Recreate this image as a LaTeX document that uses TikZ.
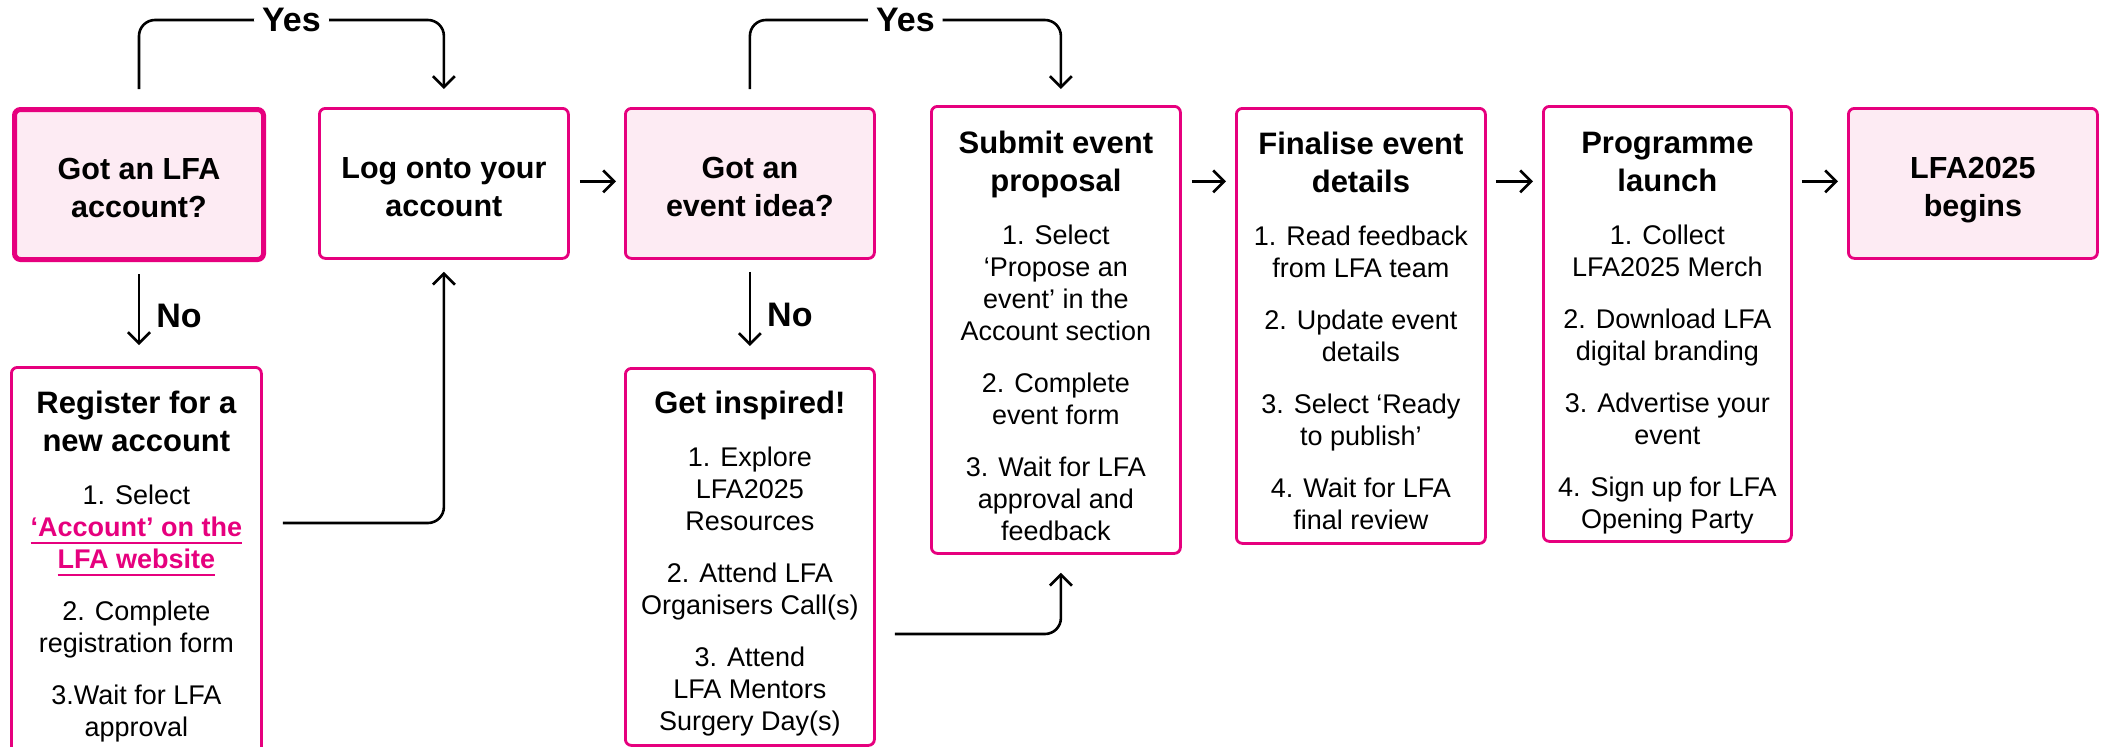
\documentclass[tikz,border=0pt]{standalone}
\usepackage{fontspec}
\setmainfont{Liberation Sans}
\usetikzlibrary{arrows.meta,calc}
\definecolor{lfapink}{HTML}{E6007E}
\definecolor{lfafill}{HTML}{FDEBF3}
\newcommand\hd[2][46]{{\fontsize{31}{38}\selectfont\bfseries\rule{0pt}{#1pt}#2\par}\vspace{21pt}}
\newcommand\qhd[1]{{\fontsize{30.5}{38}\selectfont\bfseries\rule{0pt}{70pt}#1\par}}
\newcommand\bodyfont{\fontsize{27}{32}\selectfont}
\newcommand\gap{\par\vspace{20pt}}
\newcommand\boxtext[3]{\begin{minipage}[t][#2][t]{#1}\centering #3\end{minipage}}
\newcommand\lnk[1]{\leavevmode{\color{lfapink}\bfseries\setbox0\hbox{#1}\rlap{\rule[-8pt]{\wd0}{2pt}}\box0}}
\begin{document}
\begin{tikzpicture}[x=1pt,y=-1pt,
  box/.style={draw=lfapink, line width=2.8pt, rounded corners=6pt, inner sep=0pt, anchor=north west},
  qbox/.style={box, fill=lfafill},
  conn/.style={draw=black, line width=2.6pt, -{Straight Barb[length=11pt,width=22pt]}},
  yn/.style={fill=white, font=\fontsize{34}{40}\selectfont\bfseries, inner xsep=8pt, inner ysep=2pt},
  nolbl/.style={font=\fontsize{34}{40}\selectfont\bfseries, inner sep=0pt, anchor=west}]
\clip (0,0) rectangle (2105,747);
% boxes
\node[qbox, line width=5pt] (b1) at (12,107) {\boxtext{249pt}{150pt}{\qhd{Got an LFA\\account?}}};
\node[box] (b2) at (318,107) {\boxtext{249pt}{150pt}{\qhd{Log onto your\\account}}};
\node[qbox] (b3) at (624,107) {\boxtext{249pt}{150pt}{\qhd{Got an\\event idea?}}};
\node[box] (b4) at (930,105) {\boxtext{249pt}{447pt}{\hd[47]{Submit event\\proposal}\bodyfont
  1. Select\\‘Propose an\\event’ in the\\Account section\gap
  2. Complete\\event form\gap
  3. Wait for LFA\\approval and\\feedback\par}};
\node[box] (b5) at (1235,107) {\boxtext{249pt}{435pt}{\hd{Finalise event\\details}\bodyfont
  1. Read feedback\\from LFA team\gap
  2. Update event\\details\gap
  3. Select ‘Ready\\to publish’\gap
  4. Wait for LFA\\final review\par}};
\node[box] (b6) at (1542,105) {\boxtext{248pt}{435pt}{\hd[47]{Programme\\launch}\bodyfont
  1. Collect\\LFA2025 Merch\gap
  2. Download LFA\\digital branding\gap
  3. Advertise your\\event\gap
  4. Sign up for LFA\\Opening Party\par}};
\node[qbox] (b7) at (1847,107) {\boxtext{249pt}{150pt}{\qhd{LFA2025\\begins}}};
\node[box] (b8) at (10,366) {\boxtext{250pt}{400pt}{\hd{Register for a\\new account}\bodyfont
  1. Select\\\lnk{‘Account’ on the}\\\lnk{LFA website}\gap
  2. Complete\\registration form\gap
  3.Wait for LFA\\approval\par}};
\node[box] (b9) at (624,367) {\boxtext{249pt}{377pt}{\hd[45]{Get inspired!}\bodyfont
  1. Explore\\LFA2025\\Resources\gap
  2. Attend LFA\\Organisers Call(s)\gap
  3. Attend\\LFA Mentors\\Surgery Day(s)\par}};
% yes connectors
\draw[conn, rounded corners=16pt] ($(b1.north)+(0,-18)$) -- ($(b1.north)+(0,-87)$)
  -- node[yn] (yes1) {Yes} ($(b2.north)+(0,-87)$) -- ($(b2.north)+(0,-18)$);
\draw[conn, rounded corners=16pt] ($(b3.north)+(0,-18)$) -- ($(b3.north)+(0,-87)$)
  -- node[yn] (yes2) {Yes} ($(b4.north)+(5,-85)$) -- ($(b4.north)+(5,-16)$);
% no connectors
\draw[conn] ($(b1.south)+(0,12)$) -- node[nolbl, xshift=16pt, yshift=-6pt] (no1) {No} ($(b1.south |- b8.north)+(0,-21)$);
\draw[conn] ($(b3.south)+(0,12)$) -- node[nolbl, xshift=16pt, yshift=-6pt] (no2) {No} ($(b3.south |- b9.north)+(0,-21)$);
% return connectors
\draw[conn, rounded corners=16pt] ($(b8.north east)+(20,157)$) -| ($(b2.south)+(0,12)$);
\draw[conn, rounded corners=16pt] ($(b9.north east)+(19,267)$) -| ($(b4.south)+(5,18)$);
% horizontal connectors
\draw[conn] ($(b2.east)+(10,-2)$) -- ($(b3.west)+(-8,-2)$);
\draw[conn] ($(b4.east |- b2.east)+(10,-2)$) -- ($(b5.west |- b2.east)+(-9,-2)$);
\draw[conn] ($(b5.east |- b2.east)+(9,-2)$) -- ($(b6.west |- b2.east)+(-9,-2)$);
\draw[conn] ($(b6.east |- b2.east)+(9,-2)$) -- ($(b7.west |- b2.east)+(-9,-2)$);
\end{tikzpicture}
\end{document}
